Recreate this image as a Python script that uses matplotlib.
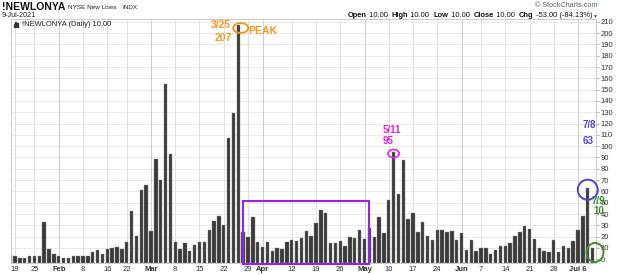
import numpy as np
import pandas as pd
import matplotlib
matplotlib.use("Agg")
import matplotlib.pyplot as plt
from matplotlib.patches import Ellipse, Rectangle

plt.rcParams['font.family'] = ['Liberation Sans', 'DejaVu Sans']

# NYSE trading days, 15 Jan - 9 Jul 2021
holidays = ['2021-01-18', '2021-02-15', '2021-04-02', '2021-05-31', '2021-07-05']
days = pd.bdate_range('2021-01-15', '2021-07-09')
days = days[~days.isin(pd.to_datetime(holidays))]

# daily new lows
new_lows = [
    4, 3, 1, 1, 3, 3, 3, 33, 9, 5,
    3, 1, 1, 3, 3, 3, 3, 6, 8, 5,
    9, 10, 11, 9, 15, 43, 21, 61, 66, 25,
    89, 70, 155, 93, 15, 9, 14, 7, 13, 15,
    15, 26, 34, 38, 30, 107, 129, 207, 24, 20,
    37, 15, 11, 15, 7, 10, 9, 15, 17, 16,
    19, 25, 21, 32, 44, 41, 14, 14, 16, 12,
    20, 19, 26, 18, 28, 20, 37, 23, 52, 95,
    58, 88, 36, 41, 24, 33, 21, 17, 26, 26,
    24, 25, 17, 23, 8, 17, 7, 10, 10, 5,
    8, 12, 12, 14, 21, 24, 29, 27, 18, 10,
    7, 6, 17, 6, 12, 10, 16, 26, 38, 63,
    10,
]

tick_days = ['2021-01-19', '2021-01-25', '2021-02-01', '2021-02-08', '2021-02-16',
             '2021-02-22', '2021-03-01', '2021-03-08', '2021-03-15', '2021-03-22',
             '2021-03-29', '2021-04-01', '2021-04-12', '2021-04-19', '2021-04-26',
             '2021-05-03', '2021-05-10', '2021-05-17', '2021-05-24', '2021-06-01',
             '2021-06-07', '2021-06-14', '2021-06-21', '2021-06-28', '2021-07-06']
tick_labels = ['19', '25', 'Feb', '8', '16', '22', 'Mar', '8', '15', '22', '29', 'Apr',
               '12', '19', '26', 'May', '10', '17', '24', 'Jun', '7', '14', '21', '28', 'Jul 6']
month_ticks = ['Feb', 'Mar', 'Apr', 'May', 'Jun', 'Jul 6']

W, H = 624, 275
fig = plt.figure(figsize=(W / 100, H / 100), dpi=100)
ax = fig.add_axes([11 / W, 12 / H, 585 / W, 243.5 / H])

x = np.arange(len(days))
vals = np.array(new_lows)
ybot, ytop = -3.3, 212
ax.set_xlim(0.16, 120.7)
ax.set_ylim(ybot, ytop)

# grid
for v in range(0, 211, 10):
    ax.axhline(v, color='#e6e6e6', lw=0.6, zorder=0)
tick_pos = [days.get_loc(pd.Timestamp(d)) for d in tick_days]
for p, lab in zip(tick_pos, tick_labels):
    ax.axvline(p, color='#cfcfcf' if lab in month_ticks else '#e2e2e2', lw=0.7, zorder=0)

ax.bar(x, vals - ybot, bottom=ybot, width=0.7, color='#3a3a3a',
       edgecolor='#8a8a8a', linewidth=0.3, zorder=2)

ax.yaxis.tick_right()
ax.set_yticks(range(0, 211, 10))
ax.tick_params(axis='y', length=2, width=0.5, color='#999999', pad=1.5,
               labelsize=5.5, labelcolor='#333333')
ax.set_xticks(tick_pos)
ax.set_xticklabels(tick_labels)
ax.tick_params(axis='x', length=0, pad=2.5, labelsize=5.5, labelcolor='#333333')
for t in ax.get_xticklabels():
    if t.get_text() in month_ticks:
        t.set_fontweight('bold')
for s in ax.spines.values():
    s.set_color('#c4c4c4')
    s.set_linewidth(0.6)

# purple box, 26 Mar - 4 May
b0 = days.get_loc(pd.Timestamp('2021-03-26'))
b1 = days.get_loc(pd.Timestamp('2021-05-04'))
ax.add_patch(Rectangle((b0, ybot - 0.8), b1 - b0, 51.5 - ybot + 0.8, fill=False,
                       ec='#9a1ef0', lw=1.5, zorder=3, clip_on=False))

# peak annotations
orange, magenta, violet, green = '#f49a1c', '#e61ee6', '#5a3fe0', '#3f8f2a'
i_pk = int(np.argmax(vals))
ax.add_patch(Ellipse((i_pk + 0.5, vals[i_pk] - 2.5), 3.1, 8.8, fill=False, ec=orange, lw=1.4, zorder=4))
ax.text(i_pk - 1.6, vals[i_pk], '3/25', color=orange, fontsize=7.5, fontweight='bold', ha='right', va='center')
ax.text(i_pk - 1.2, vals[i_pk] - 11.5, str(vals[i_pk]), color=orange, fontsize=7.5, fontweight='bold', ha='right', va='center')
ax.text(i_pk + 2.0, vals[i_pk] - 5, 'PEAK', color=orange, fontsize=7.5, fontweight='bold', ha='left', va='center')

i_m = days.get_loc(pd.Timestamp('2021-05-11'))
ax.add_patch(Ellipse((i_m, vals[i_m] - 1.5), 2.3, 7.2, fill=False, ec=magenta, lw=1.2, zorder=4))
ax.text(i_m - 2.2, vals[i_m] + 19.5, '5/11', color=magenta, fontsize=7, fontweight='bold', ha='left', va='center')
ax.text(i_m - 2.2, vals[i_m] + 10, str(vals[i_m]), color=magenta, fontsize=7, fontweight='bold', ha='left', va='center')

i_b = days.get_loc(pd.Timestamp('2021-07-08'))
ax.add_patch(Ellipse((i_b, vals[i_b] - 1.5), 4.1, 17.7, fill=False, ec=violet, lw=1.4, zorder=4, clip_on=False))
ax.text(i_b - 1.0, vals[i_b] + 56, '7/8', color=violet, fontsize=7, fontweight='bold', ha='left', va='center')
ax.text(i_b - 1.0, vals[i_b] + 41.5, str(vals[i_b]), color=violet, fontsize=7, fontweight='bold', ha='left', va='center')

i_g = days.get_loc(pd.Timestamp('2021-07-09'))
ax.add_patch(Ellipse((i_g + 0.5, vals[i_g] - 4), 3.5, 16.8, fill=False, ec=green, lw=1.4, zorder=4, clip_on=False))
ax.text(i_g - 0.1, vals[i_g] + 41.5, '7/9', color=green, fontsize=7, fontweight='bold', ha='left', va='center',
        clip_on=False, zorder=5)
ax.text(i_g + 0.1, vals[i_g] + 32.5, str(vals[i_g]), color=green, fontsize=7, fontweight='bold', ha='left', va='center',
        clip_on=False, zorder=5)

# header
def px(xp, yp):
    return xp / W, 1 - yp / H

fig.text(*px(2, 7.5), '!NEWLONYA', fontsize=7.5, fontweight='bold', color='#111111', va='center')
fig.text(*px(68, 7.5), 'NYSE New Lows', fontsize=4.6, color='#222222', va='center')
fig.text(*px(122, 7.5), 'INDX', fontsize=4.6, color='#222222', va='center')
fig.text(*px(2, 15.5), '9-Jul-2021', fontsize=5.2, color='#222222', va='center')
fig.text(*px(22, 24.5), '!NEWLONYA (Daily) 10.00', fontsize=5.4, color='#222222', va='center')
# little bar icon
for k, hgt in enumerate([3, 5, 4]):
    fig.patches.append(Rectangle(((13.5 + k * 1.7) / W, 1 - 27 / H), 1.2 / W, hgt / H,
                                 transform=fig.transFigure, color='#333333'))
fig.text(*px(597, 5.5), '\u00a9 StockCharts.com', fontsize=5.2, color='#666666', ha='right', va='center')

pieces = [('Open', 'bold'), (' 10.00  ', 'normal'), ('High', 'bold'), (' 10.00  ', 'normal'),
          ('Low', 'bold'), (' 10.00  ', 'normal'), ('Close', 'bold'), (' 10.00  ', 'normal'),
          ('Chg', 'bold'), (' -53.00 (-84.13%)', 'normal')]
renderer = fig.canvas.get_renderer()
xr = 592
fig.text(*px(598, 16), '\u25bc', fontsize=3.6, color='#cc1f2f', ha='right', va='center')
for txt, wt in reversed(pieces):
    t = fig.text(*px(xr, 15.7), txt, fontsize=5.4, fontweight=wt, color='#111111', ha='right', va='center')
    xr -= t.get_window_extent(renderer).width

fig.savefig('out.png', dpi=100)
